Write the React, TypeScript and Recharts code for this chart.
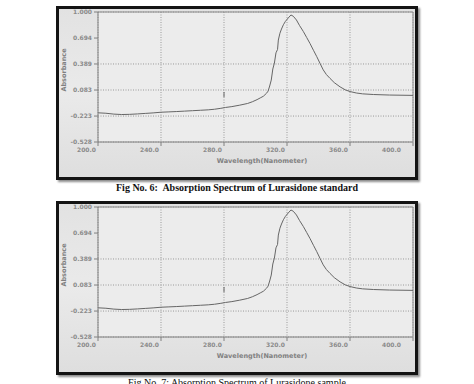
import React from 'react';
import { LineChart, Line, XAxis, YAxis, CartesianGrid, ReferenceLine } from 'recharts';

// wavelength (nm) and absorbance readings of the two scans
const wavelengths = [
  200, 205, 210, 215, 220, 225, 230, 235, 240, 245, 250, 255, 260, 265, 270, 274, 278, 281, 285, 290,
  295, 298, 301, 303, 305, 307, 308, 309, 310, 311, 312, 313, 314, 314.5, 315.5, 316.5, 317.7, 319,
  320.8, 322.5, 324, 326, 328, 330.4, 332.5, 334.6, 336.8, 338.9, 341, 343, 345, 347.3, 350, 353.7,
  357, 360, 364, 368, 375, 385, 400,
];
const standardAbs = [
  -0.185, -0.19, -0.2, -0.205, -0.203, -0.198, -0.192, -0.186, -0.178, -0.174, -0.17, -0.165, -0.16,
  -0.155, -0.15, -0.143, -0.132, -0.122, -0.112, -0.095, -0.075, -0.055, -0.03, -0.01, 0.01, 0.045,
  0.07, 0.13, 0.2, 0.33, 0.4, 0.52, 0.56, 0.67, 0.75, 0.8, 0.85, 0.89, 0.93, 0.965, 0.95, 0.906, 0.84,
  0.77, 0.7, 0.63, 0.55, 0.475, 0.395, 0.32, 0.265, 0.22, 0.17, 0.12, 0.085, 0.065, 0.048, 0.038, 0.03,
  0.024, 0.02,
];
const sampleAbs = [
  -0.185, -0.19, -0.2, -0.205, -0.203, -0.198, -0.192, -0.186, -0.178, -0.174, -0.17, -0.165, -0.16,
  -0.155, -0.15, -0.143, -0.132, -0.122, -0.112, -0.095, -0.075, -0.055, -0.03, -0.01, 0.01, 0.045,
  0.07, 0.13, 0.2, 0.33, 0.4, 0.52, 0.56, 0.67, 0.75, 0.8, 0.85, 0.89, 0.93, 0.965, 0.95, 0.906, 0.84,
  0.77, 0.7, 0.63, 0.55, 0.475, 0.395, 0.32, 0.265, 0.22, 0.17, 0.12, 0.085, 0.065, 0.048, 0.038, 0.03,
  0.024, 0.02,
];
const xTicks = [200, 240, 280, 320, 360, 400];
const yTicks = [-0.528, -0.223, 0.083, 0.389, 0.694, 1.0];

const toRows = (abs: number[]) => wavelengths.map((wl, i) => ({ wl, abs: abs[i] }));

const tickStyle = { fontSize: 6, fill: '#8a8a8a', fontFamily: 'DejaVu Sans', fontWeight: 'bold' as const };
const titleStyle = { fontSize: 6.5, fill: '#808080', fontFamily: 'DejaVu Sans', fontWeight: 'bold' as const };

// wavelength labels sit just left of their tick, right-aligned
const WavelengthTick = (props: any) => (
  <text x={props.x - 2} y={props.y} dy="0.71em" textAnchor="end" style={tickStyle}>
    {Number(props.payload.value).toFixed(1)}
  </text>
);

interface PanelProps {
  data: { wl: number; abs: number }[];
  top: number;
  caption: string;
  captionWeight: 'bold' | 'normal';
}

const SpectrumPanel: React.FC<PanelProps> = ({ data, top, caption, captionWeight }) => (
  <>
    <div
      style={{
        position: 'absolute',
        left: 56,
        top,
        width: 362,
        height: 174,
        boxSizing: 'border-box',
        border: '3px solid #141414',
        background: 'linear-gradient(180deg, #e2e2e2 0%, #eaeaea 50%, #dedede 100%)',
        boxShadow: '2px 2px 2px rgba(0,0,0,0.45)',
      }}
    >
      <LineChart width={356} height={168} data={data} margin={{ top: 3, right: 2, bottom: 0, left: 0 }}>
        <CartesianGrid stroke="#9a9a9a" strokeDasharray="1 1.5" fill="#ececec" />
        <XAxis
          dataKey="wl"
          type="number"
          domain={[200, 400]}
          ticks={xTicks}
          tick={<WavelengthTick />}
          tickSize={4}
          height={35}
          stroke="#808080"
          label={{
            content: () => (
              <text x={203} y={152} textAnchor="middle" dominantBaseline="central" style={titleStyle}>
                Wavelength(Nanometer)
              </text>
            ),
          }}
        />
        <YAxis
          type="number"
          domain={[-0.528, 1.0]}
          ticks={yTicks}
          tickFormatter={(v: number) => v.toFixed(3)}
          tick={tickStyle}
          tickSize={4}
          width={39}
          stroke="#808080"
          label={{
            content: () => (
              <text
                x={5}
                y={61}
                transform="rotate(-90 5 61)"
                textAnchor="middle"
                dominantBaseline="central"
                style={titleStyle}
              >
                Absorbance
              </text>
            ),
          }}
        />
        <ReferenceLine y={1.0} stroke="#8a8a8a" />
        <ReferenceLine x={400} stroke="#8a8a8a" />
        <ReferenceLine segment={[{ x: 280, y: 0.06 }, { x: 280, y: 0.0 }]} stroke="#666" />
        <Line
          type="linear"
          dataKey="abs"
          stroke="#666"
          strokeWidth={1}
          dot={false}
          isAnimationActive={false}
        />
      </LineChart>
    </div>
    <div
      style={{
        position: 'absolute',
        left: 0,
        width: 474,
        top: top + 176,
        textAlign: 'center',
        fontFamily: '"Liberation Serif", "Times New Roman", serif',
        fontWeight: captionWeight,
        fontSize: 10,
        lineHeight: '12px',
        color: '#111',
        whiteSpace: 'pre',
      }}
    >
      {caption}
    </div>
  </>
);

export default function App() {
  return (
    <div
      style={{
        position: 'absolute',
        left: 0,
        top: 0,
        width: 474,
        height: 384,
        overflow: 'hidden',
        background: '#fff',
      }}
    >
      <SpectrumPanel
        data={toRows(standardAbs)}
        top={6}
        caption="Fig No. 6:  Absorption Spectrum of Lurasidone standard"
        captionWeight="bold"
      />
      <SpectrumPanel
        data={toRows(sampleAbs)}
        top={201}
        caption="Fig No. 7: Absorption Spectrum of Lurasidone sample"
        captionWeight="normal"
      />
    </div>
  );
}
